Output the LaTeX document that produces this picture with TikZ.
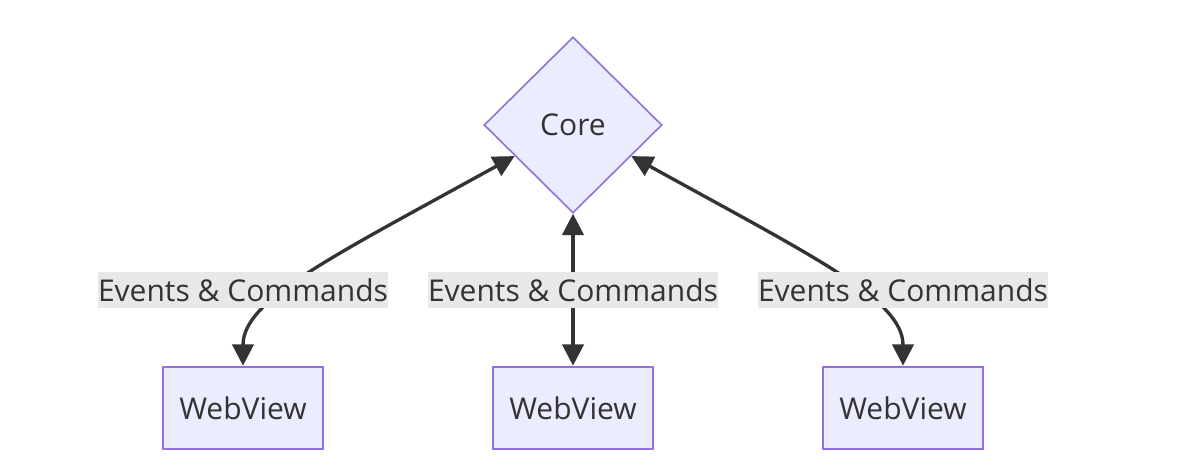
\documentclass[tikz,border=0pt]{standalone}
\usepackage{fontspec}
\setmainfont{Open Sans}
\usetikzlibrary{shapes.geometric,arrows.meta,calc}
\definecolor{nodefill}{HTML}{ECECFF}
\definecolor{nodestroke}{HTML}{9370DB}
\definecolor{ink}{HTML}{333333}
\definecolor{lblbg}{HTML}{E8E8E8}
\begin{document}
\begin{tikzpicture}[x=0.75pt,y=-0.75pt,
  every node/.style={text=ink,font=\fontsize{22.5pt}{27pt}\selectfont},
  corebox/.style={diamond,draw=nodestroke,fill=nodefill,line width=1.2pt,inner sep=0pt,minimum width=133.5pt,minimum height=132pt},
  wvbox/.style={rectangle,draw=nodestroke,fill=nodefill,line width=1.5pt,minimum width=120pt,minimum height=62pt,inner sep=0pt},
  lbl/.style={fill=lblbg,inner xsep=0pt,inner ysep=0pt,minimum height=27pt},
  link/.style={draw=ink,line width=2.5pt,{Triangle[length=16pt,width=16pt]}-{Triangle[length=16pt,width=16pt]}}
]
\useasboundingbox (0,0) rectangle (1178,474);
\node[corebox] (core) at (573,125) {Core};
\node[wvbox] (wv1) at (243,408) {WebView};
\node[wvbox] (wv2) at (573,408) {WebView};
\node[wvbox] (wv3) at (903,408) {WebView};
\coordinate (cl) at ($(core.west)!0.35!(core.south)$);
\coordinate (cr) at ($(core.east)!0.35!(core.south)$);
\draw[link] (cl) .. controls (330,258) and (243,300) .. (wv1.north);
\draw[link] (core.south) -- (wv2.north);
\draw[link] (cr) .. controls (816,258) and (903,300) .. (wv3.north);
\node[lbl] (l1) at (243,290) {Events \& Commands};
\node[lbl] (l2) at (573,290) {Events \& Commands};
\node[lbl] (l3) at (903,290) {Events \& Commands};
\end{tikzpicture}
\end{document}
